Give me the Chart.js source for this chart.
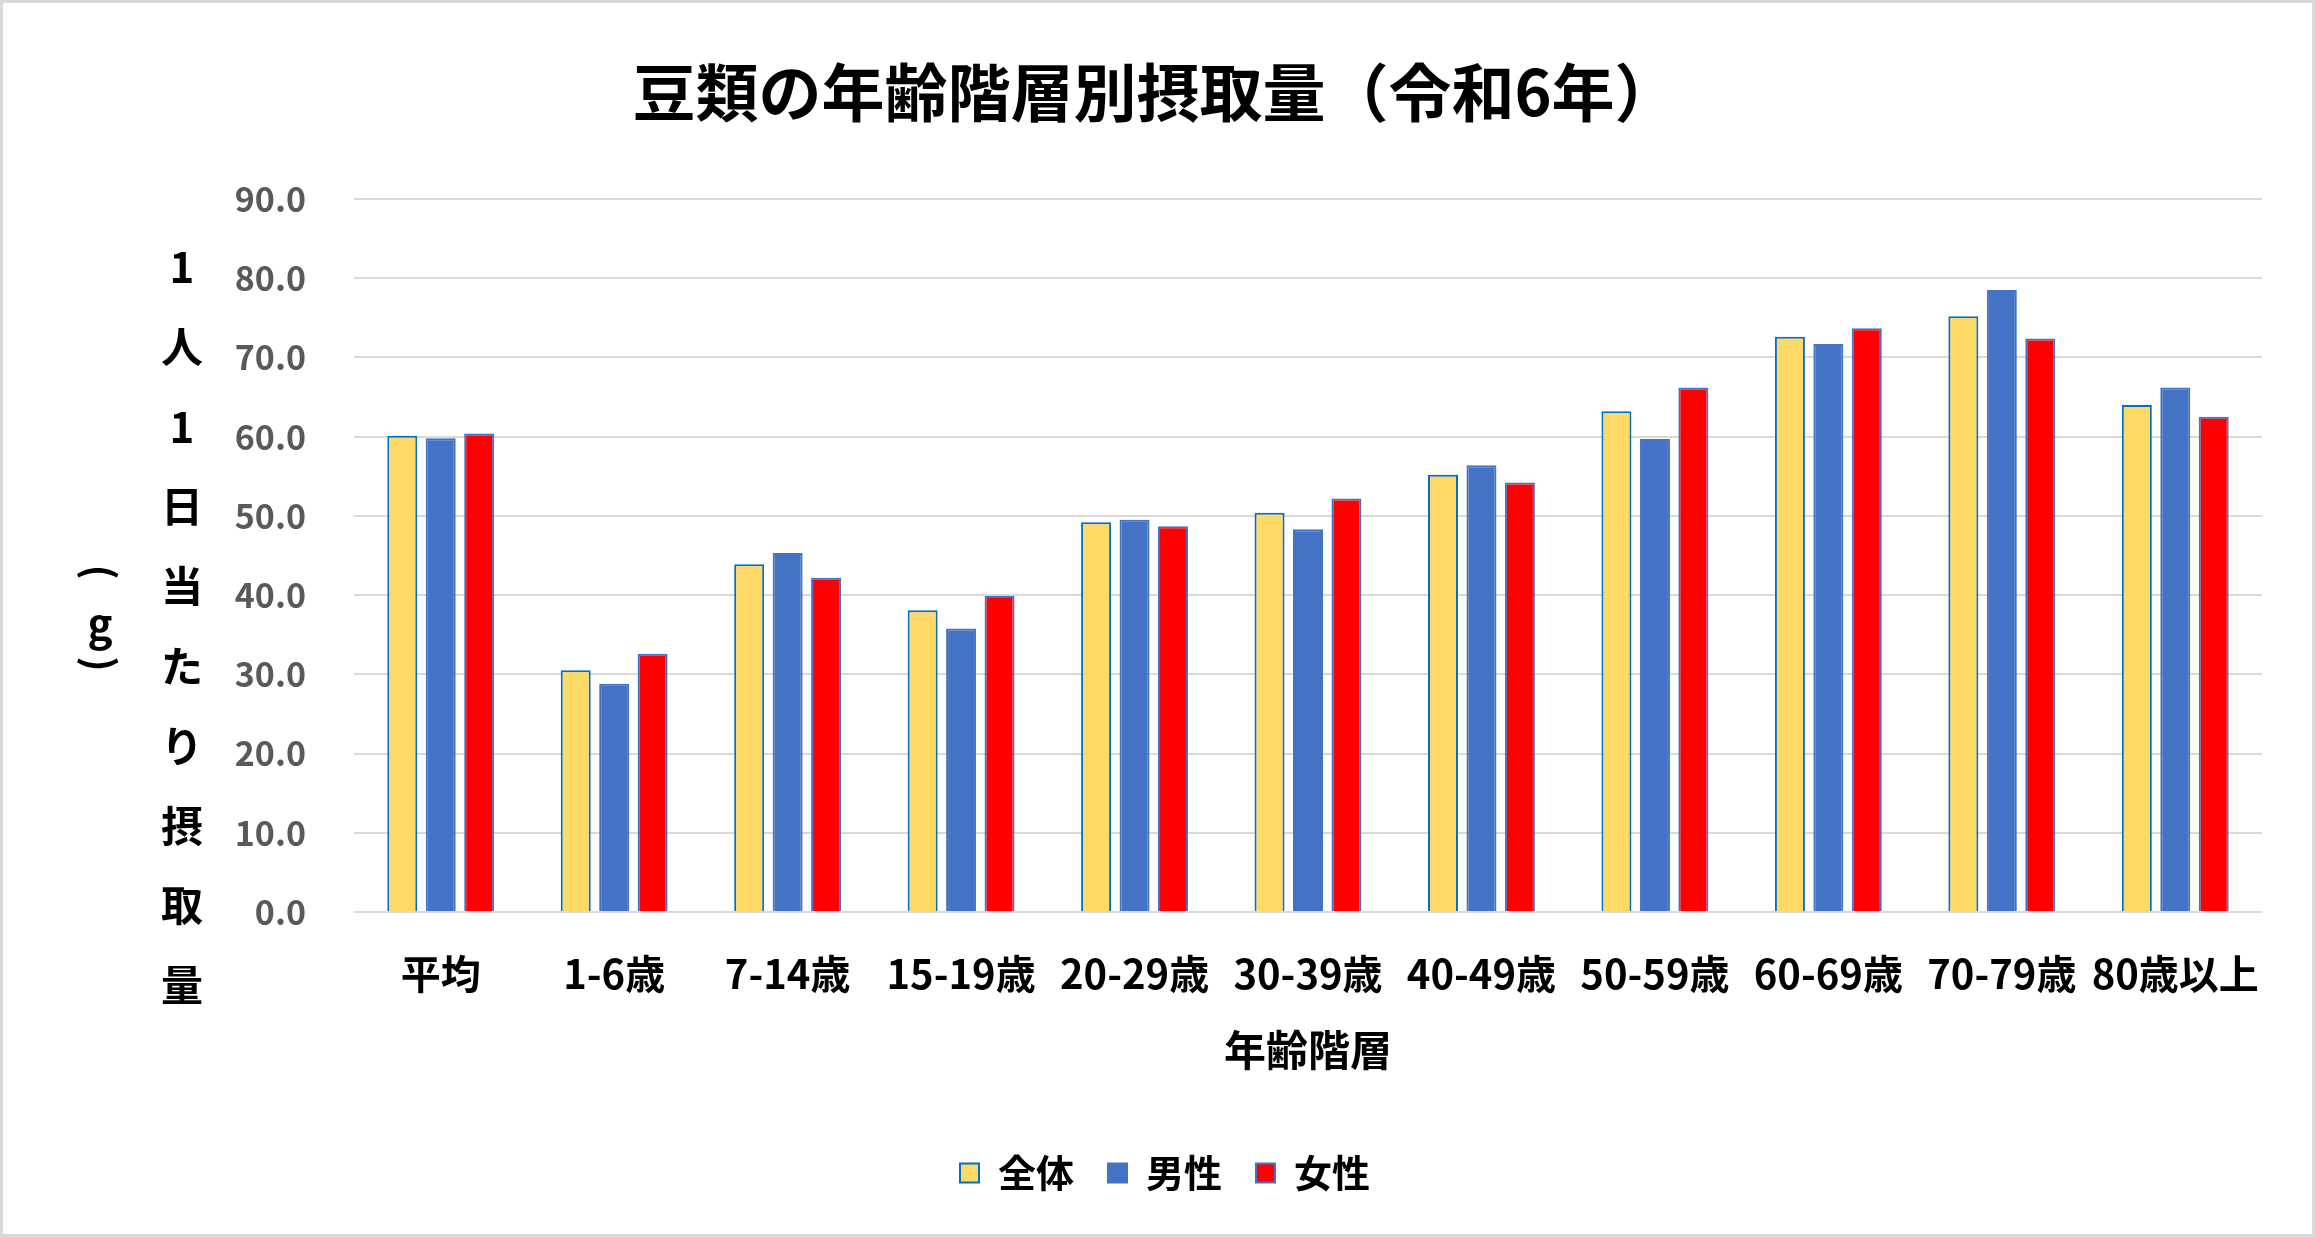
<!DOCTYPE html>
<html lang="ja">
<head>
<meta charset="utf-8">
<script src="https://cdn.jsdelivr.net/npm/chart.js@4.4.1/dist/chart.umd.min.js"></script>
<style>
  html, body { margin: 0; padding: 0; background: #ffffff; }
  #wrap { width: 2315px; height: 1237px; }
</style>
</head>
<body>
<div id="wrap"><canvas id="beansChart" width="2315" height="1237"></canvas></div>
<script>
  // Categories and series
  const ageGroups = ["平均", "1-6歳", "7-14歳", "15-19歳", "20-29歳", "30-39歳", "40-49歳", "50-59歳", "60-69歳", "70-79歳", "80歳以上"];
  const seriesNames = ["全体", "男性", "女性"];
  const allValues = [60.1, 30.5, 43.9, 38.1, 49.2, 50.4, 55.2, 63.2, 72.6, 75.2, 64.0];
  const maleValues = [59.8, 28.8, 45.3, 35.8, 49.5, 48.3, 56.4, 59.7, 71.7, 78.5, 66.2];
  const femaleValues = [60.4, 32.6, 42.2, 39.9, 48.7, 52.2, 54.2, 66.2, 73.7, 72.4, 62.5];
  const yTicks = [0, 10, 20, 30, 40, 50, 60, 70, 80, 90];

  const titleText = "豆類の年齢階層別摂取量（令和6年）";
  const xTitle = "年齢階層";
  const yTitleMain = ["1", "人", "1", "日", "当", "た", "り", "摂", "取", "量"];

  const fontFamily = '"Noto Sans CJK JP", "Noto Sans", sans-serif';

  // draws the chart title, the vertical y axis title and the outer frame
  const decorPlugin = {
    id: "decor",
    afterDraw(chart) {
      const c = chart.ctx;
      c.save();
      c.strokeStyle = "#D9D9D9";
      c.lineWidth = 3;
      c.strokeRect(1.5, 1.5, chart.width - 3, chart.height - 3);

      c.fillStyle = "#000000";
      c.textAlign = "center";
      c.textBaseline = "middle";
      c.font = "bold 63px " + fontFamily;
      c.fillText(titleText, 1155, 92);

      c.font = "bold 42px " + fontFamily;
      for (let i = 0; i < yTitleMain.length; i++) {
        c.fillText(yTitleMain[i], 182, 267 + i * 79.8);
      }
      // second column: (g) in vertical writing
      c.fillText("g", 100, 624);
      c.font = "bold 40px " + fontFamily;
      c.save();
      c.translate(100, 572);
      c.rotate(Math.PI / 2);
      c.fillText("(", 0, 0);
      c.restore();
      c.save();
      c.translate(100, 664);
      c.rotate(Math.PI / 2);
      c.fillText(")", 0, 0);
      c.restore();
      c.restore();
    }
  };

  let btx = document.getElementById("beansChart").getContext("2d");

  let beansChart = new Chart(btx, {
    type: "bar",
    data: {
      labels: ageGroups,
      datasets: [{
        label: seriesNames[0],
        data: allValues,
        backgroundColor: "#FFD966",
        borderColor: "#0070C0",
        borderWidth: 2,
      }, {
        label: seriesNames[1],
        data: maleValues,
        backgroundColor: "#4472C4",
        borderColor: "#4472C4",
        borderWidth: 2,
      }, {
        label: seriesNames[2],
        data: femaleValues,
        backgroundColor: "#FF0000",
        borderColor: "#4472C4",
        borderWidth: 2,
      }]
    },
    options: {
      responsive: false,
      devicePixelRatio: 1,
      animation: false,
      categoryPercentage: 0.665,
      barPercentage: 0.78,
      layout: {
        padding: { top: 199, right: 53, bottom: 35, left: 68 }
      },
      plugins: {
        title: { display: false },
        legend: {
          display: true,
          position: "bottom",
          labels: {
            color: "#000000",
            boxWidth: 19,
            boxHeight: 19,
            padding: 34,
            font: { family: fontFamily, size: 38, weight: "bold" },
          },
        },
        tooltip: { enabled: false },
      },
      scales: {
        x: {
          grid: { display: false },
          border: { display: false },
          ticks: {
            color: "#000000",
            padding: 30,
            maxRotation: 0,
            autoSkip: false,
            font: { family: fontFamily, size: 40, weight: "bold" },
          },
          title: {
            display: true,
            text: xTitle,
            color: "#000000",
            font: { family: fontFamily, size: 42, weight: "bold", lineHeight: 1.2 },
            padding: { top: 0, bottom: 45 },
          },
          afterFit(scale) { scale.height = 208; },
        },
        y: {
          min: yTicks[0],
          max: yTicks[yTicks.length - 1],
          afterBuildTicks(scale) { scale.ticks = yTicks.map(v => ({ value: v })); },
          grid: {
            color: "#D9D9D9",
            lineWidth: 2,
            drawTicks: false,
          },
          border: { display: false },
          ticks: {
            color: "#595959",
            padding: 48,
            font: { family: fontFamily, size: 34, weight: "bold" },
            callback: (v) => Number(v).toFixed(1),
          },
          afterFit(scale) { scale.width = 286; },
        }
      }
    },
    plugins: [decorPlugin]
  });
</script>
</body>
</html>
